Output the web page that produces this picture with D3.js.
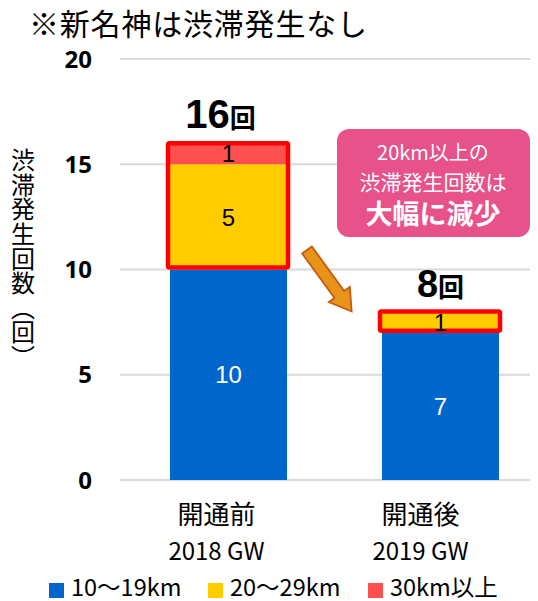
<!DOCTYPE html>
<html><head><meta charset="utf-8">
<script src="https://cdn.jsdelivr.net/npm/d3@7/dist/d3.min.js"></script>
<style>
html,body{margin:0;padding:0;background:#fff;}
text{font-family:"Noto Sans CJK JP","Noto Sans",sans-serif;}
</style></head>
<body>
<svg id="chart" width="538" height="601"></svg>
<script>
const categories = ["開通前", "開通後"];
const categoryYears = ["2018 GW", "2019 GW"];
const seriesNames = ["10〜19km", "20〜29km", "30km以上"];
const series10to19 = [10, 7];
const series20to29 = [5, 1];
const series30plus = [1, 0];
const totals = [16, 8];
const yTicks = [0, 5, 10, 15, 20];
const yTitle = "渋滞発生回数（回）";
const colors = ["#0066CC", "#FFCC00", "#FF5050"];

const svg = d3.select("#chart");
const plotL = 120, plotR = 530, plotT = 59, plotB = 480;
const y = d3.scaleLinear().domain([0, 20]).range([plotB, plotT]);
const x = d3.scaleBand().domain(categories).range([170, 499]).paddingInner(0.448).paddingOuter(0);

// title
svg.append("text").attr("x", 29).attr("y", 35).attr("font-size", 30).attr("fill", "#000")
  .attr("letter-spacing", 0.8)
  .text("※新名神は渋滞発生なし");

// gridlines
svg.append("g").selectAll("line").data(yTicks).join("line")
  .attr("x1", plotL).attr("x2", plotR)
  .attr("y1", d => y(d)).attr("y2", d => y(d))
  .attr("stroke", "#D9D9D9").attr("stroke-width", 2);

// y tick labels
svg.append("g").selectAll("text").data(yTicks).join("text")
  .attr("x", 92).attr("y", d => y(d)).attr("dy", "0.36em")
  .attr("text-anchor", "end").attr("font-size", 24).attr("font-weight", "bold")
  .style("font-family", "'Noto Sans', sans-serif")
  .text(d => d);

// y axis title (vertical)
svg.append("text").attr("x", 23).attr("y", 148)
  .style("writing-mode", "vertical-rl")
  .style("text-spacing-trim", "space-all")
  .attr("letter-spacing", 0.6)
  .attr("font-size", 24).attr("fill", "#000")
  .text(yTitle);

// stacked data
const stackData = categories.map((c, i) => ({cat: c, s0: series10to19[i], s1: series20to29[i], s2: series30plus[i]}));
const stack = d3.stack().keys(["s0", "s1", "s2"])(stackData);

const gBars = svg.append("g");
stack.forEach((layer, li) => {
  gBars.selectAll(null).data(layer).join("rect")
    .attr("x", d => x(d.data.cat))
    .attr("width", x.bandwidth())
    .attr("y", d => y(d[1]))
    .attr("height", d => y(d[0]) - y(d[1]))
    .attr("fill", colors[li]);
});

// red highlight boxes around 20km+ segments
svg.append("g").selectAll("rect").data(stackData).join("rect")
  .attr("x", d => x(d.cat) - 2)
  .attr("width", x.bandwidth() + 3)
  .attr("y", d => y(d.s0 + d.s1 + d.s2))
  .attr("height", d => y(d.s0) - y(d.s0 + d.s1 + d.s2) - 2)
  .attr("fill", "none").attr("stroke", "#FF0000").attr("stroke-width", 4.5)
  .attr("rx", 1.5);

// segment labels
const segLabels = [];
stack.forEach((layer, li) => {
  layer.forEach(d => {
    const v = d[1] - d[0];
    if (v > 0) segLabels.push({cat: d.data.cat, v, mid: (d[0] + d[1]) / 2, li});
  });
});
svg.append("g").selectAll("text").data(segLabels).join("text")
  .attr("x", d => x(d.cat) + x.bandwidth() / 2)
  .attr("y", d => y(d.mid)).attr("dy", "0.36em")
  .attr("text-anchor", "middle")
  .attr("font-size", 24)
  .attr("fill", d => d.li === 0 ? "#fff" : "#000")
  .style("font-family", "'Liberation Sans', Arial, sans-serif")
  .text(d => d.v);

// totals
const totG = svg.append("g").selectAll("text").data(categories).join("text")
  .attr("x", (d, i) => x(d) + x.bandwidth() / 2 - (i === 0 ? 8 : 0))
  .attr("y", (d, i) => y(totals[i]) - 15)
  .attr("text-anchor", "middle").attr("font-weight", "bold").attr("fill", "#000");
totG.append("tspan").style("font-family", "'Liberation Sans', Arial, sans-serif")
  .attr("font-size", (d, i) => i === 0 ? 40 : 38).text((d, i) => totals[i]);
totG.append("tspan").attr("font-size", 26).text("回");

// x labels
const xl = svg.append("g").selectAll("text").data(categories).join("text")
  .attr("text-anchor", "middle").attr("fill", "#000").attr("font-size", 26);
const lblOff = i => i === 0 ? -12 : -20;
xl.append("tspan").attr("x", (d, i) => x(d) + x.bandwidth() / 2 + lblOff(i)).attr("y", 524).text(d => d);
xl.append("tspan").attr("x", (d, i) => x(d) + x.bandwidth() / 2 + lblOff(i)).attr("y", 560)
  .attr("font-size", 24).text((d, i) => categoryYears[i]);

// legend
const legX = [49, 208, 368];
const leg = svg.append("g").selectAll("g").data(seriesNames).join("g")
  .attr("transform", (d, i) => `translate(${legX[i]},583)`);
leg.append("rect").attr("width", 15).attr("height", 15).attr("fill", (d, i) => colors[i]);
leg.append("text").attr("x", 22).attr("y", 5).attr("dy", "0.36em")
  .attr("font-size", 23.5).attr("fill", "#000").text(d => d);

// callout
const cg = svg.append("g");
cg.append("rect").attr("x", 337).attr("y", 129).attr("width", 193).attr("height", 108)
  .attr("rx", 12).attr("fill", "#E8528A");
cg.append("text").attr("x", 433).attr("y", 160).attr("text-anchor", "middle")
  .attr("font-size", 20).attr("fill", "#fff").text("20km以上の");
cg.append("text").attr("x", 433).attr("y", 190).attr("text-anchor", "middle")
  .attr("font-size", 21).attr("fill", "#fff").text("渋滞発生回数は");
cg.append("text").attr("x", 433).attr("y", 224).attr("text-anchor", "middle")
  .attr("font-size", 27).attr("font-weight", "bold").attr("fill", "#fff").text("大幅に減少");

// arrow
const L = 76, shaftHW = 6, headHW = 13, headLen = 21;
const arrowPts = [[0, -shaftHW], [L - headLen, -shaftHW], [L - headLen, -headHW], [L, 0],
                  [L - headLen, headHW], [L - headLen, shaftHW], [0, shaftHW]];
svg.append("polygon")
  .attr("points", arrowPts.map(p => p.join(",")).join(" "))
  .attr("transform", "translate(307,250) rotate(54)")
  .attr("fill", "#E8941A").attr("stroke", "#C55A11").attr("stroke-width", 1.8)
  .attr("stroke-linejoin", "miter");
</script>
</body></html>
